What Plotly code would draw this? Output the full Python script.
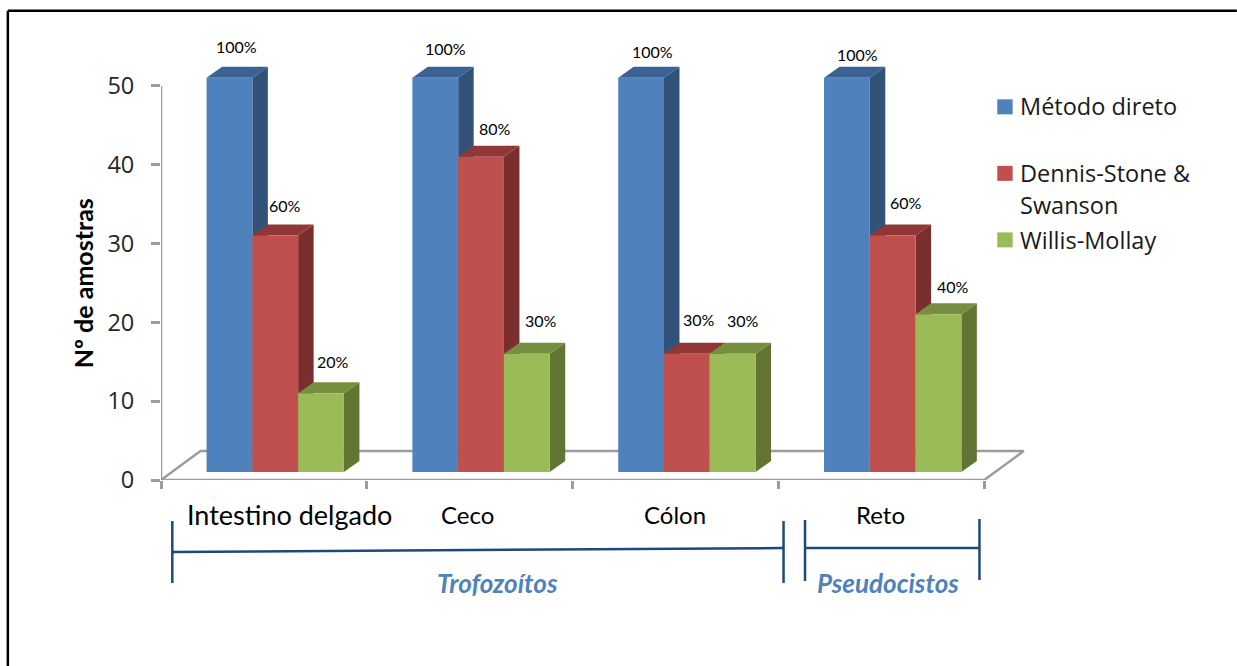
import plotly.graph_objects as go

# Chart data
categories = ["Intestino delgado", "Ceco", "Cólon", "Reto"]
series_lines = [["Método direto"], ["Dennis-Stone &", "Swanson"], ["Willis-Mollay"]]
metodo_direto = [50, 50, 50, 50]
dennis_stone = [30, 40, 15, 30]
willis_mollay = [10, 15, 15, 20]
pct_metodo = ["100%", "100%", "100%", "100%"]
pct_dennis = ["60%", "80%", "30%", "60%"]
pct_willis = ["20%", "30%", "30%", "40%"]
y_ticks = [0, 10, 20, 30, 40, 50]
x_edges = [0, 1, 2, 3, 4]

# Figure geometry in pixels; the plot area runs past the drawn axes so the
# bars' depth and the labels above them have room
W, H = 1237, 666
X_MAX, Y_MAX = 4.3, 60
PX_X = 205.9
PX_Y = 7.88
PL, PB = 160.7, 480.0
PR = PL + X_MAX * PX_X
PT = PB - Y_MAX * PX_Y


def px(x):
    return (x - PL) / (PR - PL)


def py(y):
    return (PB - y) / (PB - PT)


FONT = "Lato"
WIDE_FONT = "Open Sans"
AXIS_GREY = "#9C9C9C"
FRONT = ["#4F81BD", "#C0504D", "#9BBB59"]
TOP = ["#3C6293", "#8F3836", "#768F3F"]
SIDE = ["#33527A", "#7A2E2E", "#637533"]

BAR_W = 45.8 / PX_X
BAR_START = 45.6 / PX_X
BASE = 8.0 / PX_Y
DEPTH_X = 15.5 / PX_X
DEPTH_Y = 11.0 / PX_Y
FLOOR_X = 39.5 / PX_X
FLOOR_Y = 29.0 / PX_Y

fig = go.Figure()


def face(xs, ys, color):
    fig.add_trace(go.Scatter(
        x=xs, y=ys, mode="lines", fill="toself", fillcolor=color,
        line=dict(width=0, color=color), hoverinfo="skip",
        showlegend=False, cliponaxis=False,
    ))


def grey_line(xs, ys):
    fig.add_trace(go.Scatter(
        x=xs, y=ys, mode="lines", line=dict(color=AXIS_GREY, width=2.5),
        hoverinfo="skip", showlegend=False, cliponaxis=False,
    ))


# Axis lines and the floor of the 3D box
grey_line([0, 0], [0, 50])
grey_line([0, 4], [0, 0])
grey_line([0, FLOOR_X, 4 + FLOOR_X, 4], [0, FLOOR_Y, FLOOR_Y, 0])

# Extruded bars: side and top faces first, front face over them
all_values = [metodo_direto, dennis_stone, willis_mollay]
for c in range(len(categories)):
    for s, values in enumerate(all_values):
        x0 = c + BAR_START + s * BAR_W
        x1 = x0 + BAR_W
        top = BASE + values[c]
        face([x1, x1 + DEPTH_X, x1 + DEPTH_X, x1, x1],
             [BASE, BASE + DEPTH_Y, top + DEPTH_Y, top, BASE], SIDE[s])
        face([x0, x0 + DEPTH_X, x1 + DEPTH_X, x1, x0],
             [top, top + DEPTH_Y, top + DEPTH_Y, top, top], TOP[s])
        face([x0, x1, x1, x0, x0], [BASE, BASE, top, top, BASE], FRONT[s])

annotations = []

# Percentage labels, nudged by hand off each bar top
label_nudges = [
    [(7, 31), (10, 30), (11.5, 32)],
    [(10, 29), (14, 28), (14, 33)],
    [(11.5, 26), (12.5, 34), (10, 33)],
    [(11, 23), (13, 33), (14.5, 28)],
]
all_pcts = [pct_metodo, pct_dennis, pct_willis]
for c in range(len(categories)):
    for s, values in enumerate(all_values):
        dx, dy = label_nudges[c][s]
        annotations.append(dict(
            x=c + BAR_START + (s + 0.5) * BAR_W, y=BASE + values[c],
            xref="x", yref="y", text=all_pcts[s][c], showarrow=False,
            xshift=dx, yshift=dy, xanchor="center", yanchor="middle",
            font=dict(family=FONT, size=16, color="#000000"),
        ))

# Category labels
cat_centers = [(289, 27), (467, 24), (675, 24), (881, 24)]
for name, (cx, size) in zip(categories, cat_centers):
    annotations.append(dict(
        x=px(cx), y=py(514), xref="paper", yref="paper", text=name,
        showarrow=False, xanchor="center", yanchor="middle",
        font=dict(family=FONT, size=size, color="#000000"),
    ))

# Region captions under the brackets
for text, cx in [("Trofozoítos", 497), ("Pseudocistos", 888)]:
    annotations.append(dict(
        x=px(cx), y=py(583), xref="paper", yref="paper",
        text=f"<b><i>{text}</i></b>", showarrow=False,
        xanchor="center", yanchor="middle",
        font=dict(family=FONT, size=26, color="#4F81BD"),
    ))

# Vertical axis title
annotations.append(dict(
    x=px(83), y=py(283), xref="paper", yref="paper",
    text="<b>Nº de amostras</b>", textangle=-90, showarrow=False,
    xanchor="center", yanchor="middle",
    font=dict(family=FONT, size=25, color="#000000"),
))

# Legend column: one row of swatch per series, one text row per line
legend_swatch_y = [107, 173.5, 240]
legend_text_y = [[106.5], [173, 205], [240]]
for lines, rows in zip(series_lines, legend_text_y):
    for line, row in zip(lines, rows):
        annotations.append(dict(
            x=px(1018.5), y=py(row), xref="paper", yref="paper", text=line,
            showarrow=False, xanchor="left", yanchor="middle", align="left",
            font=dict(family=WIDE_FONT, size=23.5, color="#1A1A1A"),
        ))

shapes = []


def seg(x0, y0, x1, y1, color="#1F497D", width=2.5):
    shapes.append(dict(
        type="line", xref="paper", yref="paper",
        x0=px(x0), y0=py(y0), x1=px(x1), y1=py(y1),
        line=dict(color=color, width=width),
    ))


# Brackets grouping the categories
seg(172, 521, 172, 583)
seg(172, 552, 783.5, 548)
seg(783.5, 521, 783.5, 583)
seg(805, 520, 805, 581)
seg(805, 548, 979.5, 548)
seg(979.5, 519, 979.5, 580)

# Outer frame
seg(7.5, 11, 7.5, 666, color="#000000", width=2.5)
seg(7.5, 11, 1237, 11, color="#000000", width=2.5)

# Legend swatches
for color, sy in zip(FRONT, legend_swatch_y):
    shapes.append(dict(
        type="rect", xref="paper", yref="paper",
        x0=px(997.3), x1=px(1012.7), y0=py(sy - 7.5), y1=py(sy + 7.5),
        fillcolor=color, line=dict(width=0),
    ))

fig.update_layout(
    width=W, height=H, autosize=False,
    margin=dict(l=PL, r=W - PR, t=PT, b=H - PB, pad=0),
    paper_bgcolor="white", plot_bgcolor="white", showlegend=False,
    annotations=annotations, shapes=shapes,
    xaxis=dict(
        range=[0, X_MAX], tickmode="array", tickvals=x_edges, showticklabels=False,
        ticks="outside", ticklen=8, tickwidth=2.5, tickcolor=AXIS_GREY,
        showline=False, showgrid=False, zeroline=False,
    ),
    yaxis=dict(
        range=[0, Y_MAX], tickmode="array", tickvals=y_ticks,
        ticks="outside", ticklen=9, tickwidth=2.5, tickcolor=AXIS_GREY,
        ticklabelstandoff=12,
        tickfont=dict(family=WIDE_FONT, size=23.5, color="#262626"),
        showline=False, showgrid=False, zeroline=False,
    ),
)

fig.write_html("out.html")
